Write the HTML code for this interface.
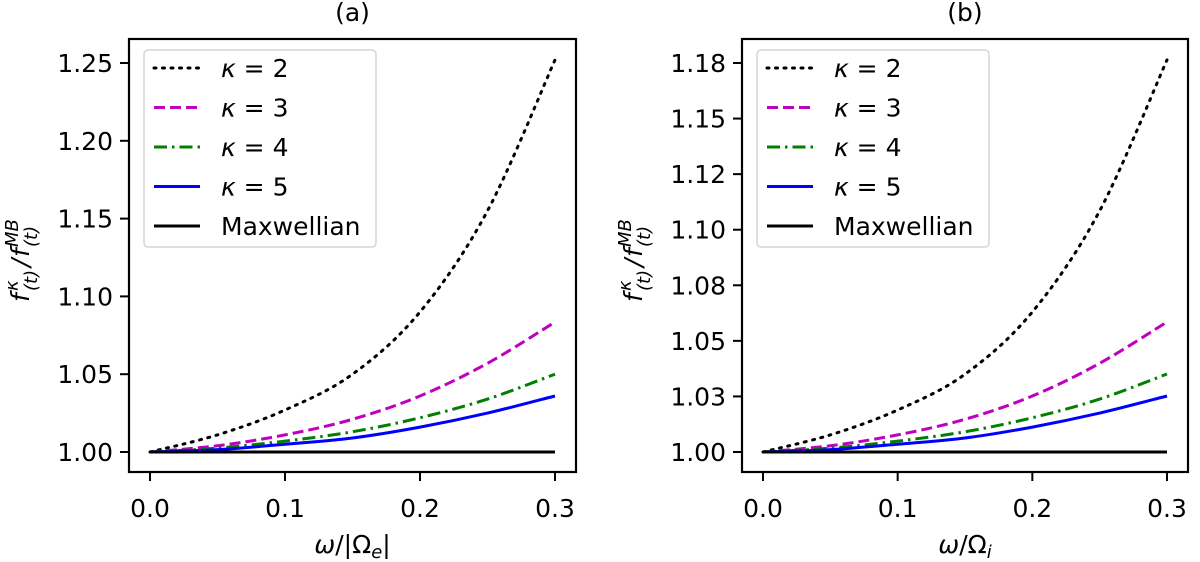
<!DOCTYPE html>
<html><head><meta charset="utf-8"><style>
html,body{margin:0;padding:0;background:#fff;}
svg{display:block;font-family:"DejaVu Sans","Liberation Sans",sans-serif;}
</style></head><body>
<svg id="fig" width="1200" height="562" viewBox="0 0 1200 562" xmlns="http://www.w3.org/2000/svg"></svg>
<script>
const xValues = [0, 0.05, 0.1, 0.15, 0.2, 0.25, 0.3];
const xTicks = [0, 0.1, 0.2, 0.3];
const xTickLabels = ["0.0", "0.1", "0.2", "0.3"];
const seriesLabels = ["κ = 2", "κ = 3", "κ = 4", "κ = 5", "Maxwellian"];
const aK2 = [1, 1.011, 1.027, 1.050, 1.090, 1.155, 1.252];
const aK3 = [1, 1.004, 1.011, 1.021, 1.036, 1.057, 1.0835];
const aK4 = [1, 1.0025, 1.007, 1.013, 1.022, 1.034, 1.050];
const aK5 = [1, 1.0015, 1.005, 1.009, 1.016, 1.025, 1.036];
const aMB = [1, 1, 1, 1, 1, 1, 1];
const bK2 = [1, 1.0077, 1.0189, 1.035, 1.063, 1.1085, 1.1764];
const bK3 = [1, 1.0028, 1.0077, 1.0147, 1.0252, 1.0399, 1.0585];
const bK4 = [1, 1.00175, 1.0049, 1.0091, 1.0154, 1.0238, 1.0351];
const bK5 = [1, 1.00105, 1.0035, 1.0063, 1.0112, 1.0175, 1.0252];
const bMB = [1, 1, 1, 1, 1, 1, 1];
const aYTicks = [1.00, 1.05, 1.10, 1.15, 1.20, 1.25];
const aYTickLabels = ["1.00", "1.05", "1.10", "1.15", "1.20", "1.25"];
const bYTicks = [1.000, 1.025, 1.050, 1.075, 1.100, 1.125, 1.150, 1.175];
const bYTickLabels = ["1.00", "1.03", "1.05", "1.08", "1.10", "1.12", "1.15", "1.18"];

const NS = "http://www.w3.org/2000/svg";
const svg = document.getElementById('fig');
function mk(tag, attrs, parent) {
  const e = document.createElementNS(NS, tag);
  for (const k in attrs) e.setAttribute(k, attrs[k]);
  (parent || svg).appendChild(e);
  return e;
}
const styles = [
  {stroke: "#000", dash: "2,6.5", cap: "round"},
  {stroke: "#bf00bf", dash: "11,5", cap: "butt"},
  {stroke: "#007f00", dash: "13,5,2.5,5", cap: "butt"},
  {stroke: "#0000ff", dash: "", cap: "butt"},
  {stroke: "#000", dash: "", cap: "butt"}
];

function smoothPath(pts) {
  let d = "M" + pts[0][0] + "," + pts[0][1];
  for (let i = 0; i < pts.length - 1; i++) {
    const p0 = pts[Math.max(0, i - 1)], p1 = pts[i], p2 = pts[i + 1], p3 = pts[Math.min(pts.length - 1, i + 2)];
    const c1x = p1[0] + (p2[0] - p0[0]) / 6, c1y = p1[1] + (p2[1] - p0[1]) / 6;
    const c2x = p2[0] - (p3[0] - p1[0]) / 6, c2y = p2[1] - (p3[1] - p1[1]) / 6;
    d += " C" + c1x + "," + c1y + " " + c2x + "," + c2y + " " + p2[0] + "," + p2[1];
  }
  return d;
}

function panel(id, left, right, yTicks, yLabels, yMaxTick, series, title, xlabelParts) {
  const top = 39, bottom = 472;
  const g = mk('g', {});
  
  
  const x0px = left + 21, x3px = right - 21;
  const xs = v => x0px + (v - 0) / 0.3 * (x3px - x0px);
  const ys = v => 452 - (v - 1) / (yMaxTick - 1) * (452 - 63);
  series.forEach((vals, si) => {
    const pts = xValues.map((x, i) => [xs(x), ys(vals[i])]);
    const st = styles[si];
    const p = mk('path', {d: smoothPath(pts), fill: "none", stroke: st.stroke, "stroke-width": 3, "stroke-dasharray": st.dash, "stroke-linecap": st.cap}, g);
    
    
  });
  const fr = mk('rect', {x: left, y: top, width: right - left, height: bottom - top, fill: "none", stroke: "#000", "stroke-width": 2.2}, g);
  
  
  xTicks.forEach((t, i) => {
    mk('line', {x1: xs(t), x2: xs(t), y1: bottom, y2: bottom + 9, stroke: "#000", "stroke-width": 2}, g);
    const tx = mk('text', {x: xs(t), y: 517, "font-size": 25, "text-anchor": "middle"}, g);
    tx.textContent = xTickLabels[i];
    
    
  });
  yTicks.forEach((t, i) => {
    mk('line', {x1: left - 9, x2: left, y1: ys(t), y2: ys(t), stroke: "#000", "stroke-width": 2}, g);
    const tx = mk('text', {x: left - 16, y: ys(t) + 9, "font-size": 25, "text-anchor": "end"}, g);
    tx.textContent = yLabels[i];
    
    
  });
  const tt = mk('text', {x: (left + right) / 2, y: 21, "font-size": 25, "text-anchor": "middle"}, g);
  tt.textContent = title;
  
  
  const xl = mk('text', {x: (left + right) / 2, y: 553, "font-size": 25, "text-anchor": "middle"}, g);
  
  
  const t1 = mk('tspan', {"font-style": "italic"}, xl); t1.textContent = "ω";
  const t2 = mk('tspan', {}, xl); t2.textContent = xlabelParts[0];
  const t3 = mk('tspan', {"font-size": 18, dy: 5, "font-style": "italic"}, xl); t3.textContent = xlabelParts[1];
  const t4 = mk('tspan', {dy: -5}, xl); t4.textContent = xlabelParts[2];
  const yl = mk('g', {transform: "translate(" + (left - 100) + ",257) rotate(-90)", "font-style": "italic"}, g);
  
  
  const yparts = [["f", -45, 0, 25], ["κ", -34, -11, 18], ["(t)", -34, 8, 18], ["/", -10, 0, 25], ["f", 0, 0, 25], ["MB", 10, -11, 18], ["(t)", 10, 8, 18]];
  yparts.forEach(p => {
    const ts = mk('text', {x: p[1], y: p[2], "font-size": p[3]}, yl);
    ts.textContent = p[0];
  });
  const lg = mk('g', {}, g);
  
  
  mk('rect', {x: left + 15, y: 50, width: 232, height: 197, rx: 4, fill: "#fff", "fill-opacity": 0.8, stroke: "#d6d6d6", "stroke-width": 1.5}, lg);
  seriesLabels.forEach((lab, i) => {
    const yy = 68 + i * 39.5;
    const st = styles[i];
    const en = mk('g', {}, lg);
    
    
    mk('line', {x1: left + 25, x2: left + 71, y1: yy, y2: yy, stroke: st.stroke, "stroke-width": 3, "stroke-dasharray": st.dash, "stroke-linecap": st.cap}, en);
    const tx = mk('text', {x: left + 92, y: yy + 9, "font-size": 25}, en);
    if (i < 4) {
      const a = mk('tspan', {"font-style": "italic"}, tx); a.textContent = "κ";
      const b = mk('tspan', {}, tx); b.textContent = " = " + (i + 2);
    } else tx.textContent = lab;
  });
}
panel('a', 129, 576, aYTicks, aYTickLabels, 1.25, [aK2, aK3, aK4, aK5, aMB], "(a)", ["/|Ω", "e", "|"]);
panel('b', 742, 1188, bYTicks, bYTickLabels, 1.175, [bK2, bK3, bK4, bK5, bMB], "(b)", ["/Ω", "i", ""]);
</script>
</body></html>
